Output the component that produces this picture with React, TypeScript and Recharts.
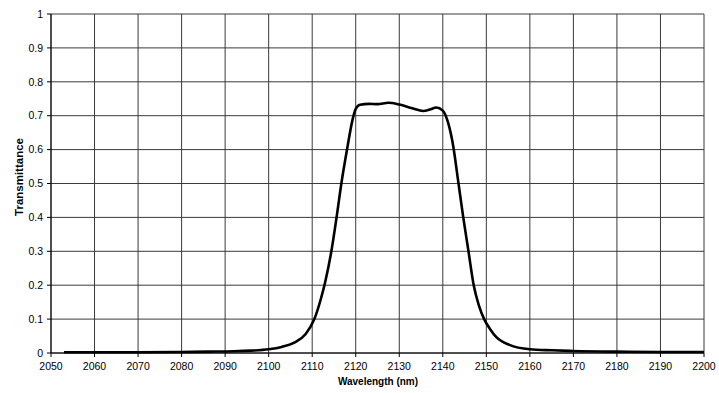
import { CartesianGrid, Line, LineChart, XAxis, YAxis } from "recharts";

// Filter transmittance curve
const wavelength = [
  2053, 2060, 2070, 2080, 2086, 2092, 2096, 2100, 2103, 2106, 2108.5, 2110.5,
  2112, 2113, 2114.4, 2115.6, 2116.7, 2118, 2119.3, 2120, 2121, 2123, 2125,
  2127.5, 2130, 2133, 2135.5, 2137, 2138.5, 2140, 2141.2, 2142.4, 2143.5,
  2144.7, 2145.9, 2147.1, 2148.3, 2149.5, 2151, 2152.2, 2155.3, 2160, 2165,
  2170, 2180, 2190, 2200,
];
const transmittance = [
  0.002, 0.002, 0.002, 0.003, 0.004, 0.005, 0.007, 0.011, 0.018, 0.031, 0.056, 0.1,
  0.16, 0.21, 0.3, 0.4, 0.5, 0.6, 0.69, 0.72, 0.732, 0.735, 0.734,
  0.738, 0.733, 0.722, 0.714, 0.718, 0.724, 0.715, 0.68, 0.61, 0.51,
  0.4, 0.3, 0.2, 0.14, 0.1, 0.068, 0.048, 0.024, 0.011, 0.008,
  0.006, 0.004, 0.003, 0.003,
];
const xTicks = [2050, 2060, 2070, 2080, 2090, 2100, 2110, 2120, 2130, 2140, 2150, 2160, 2170, 2180, 2190, 2200];
const yTicks = [0, 0.1, 0.2, 0.3, 0.4, 0.5, 0.6, 0.7, 0.8, 0.9, 1];

const data = wavelength.map((w, i) => ({ w, t: transmittance[i] }));

const font = "'Liberation Sans', Arial, sans-serif";
const tickStyle = { fill: "#000", fontSize: 10.5, fontFamily: font };

export default function App() {
  return (
    <div style={{ position: "absolute", left: 0, top: 0, width: 719, height: 393, background: "#fff" }}>
      <LineChart width={719} height={393} data={data} margin={{ top: 14, right: 15, bottom: 0, left: 0 }}>
        <CartesianGrid stroke="#3a3a3a" strokeWidth={1} />
        <XAxis
          dataKey="w"
          type="number"
          domain={[2050, 2200]}
          ticks={xTicks}
          interval={0}
          height={40}
          tick={tickStyle}
          tickSize={4}
          tickMargin={6}
          axisLine={{ stroke: "#000" }}
          tickLine={{ stroke: "#000" }}
          label={{
            content: () => (
              <text x={378} y={385} textAnchor="middle" fontFamily={font} fontSize={10} fontWeight="bold" fill="#000">
                Wavelength (nm)
              </text>
            ),
          }}
        />
        <YAxis
          type="number"
          domain={[0, 1]}
          ticks={yTicks}
          interval={0}
          width={51}
          tick={tickStyle}
          tickSize={4}
          tickMargin={4}
          tickFormatter={(v: number) => String(+v.toFixed(1))}
          axisLine={{ stroke: "#000" }}
          tickLine={{ stroke: "#000" }}
          label={{
            content: () => (
              <text
                x={23}
                y={177}
                textAnchor="middle"
                transform="rotate(-90 23 177)"
                fontFamily={font}
                fontSize={11.5}
                fontWeight="bold"
                fill="#000"
              >
                Transmittance
              </text>
            ),
          }}
        />
        <Line
          dataKey="t"
          type="monotone"
          stroke="#000"
          strokeWidth={2.6}
          dot={false}
          isAnimationActive={false}
        />
      </LineChart>
    </div>
  );
}
